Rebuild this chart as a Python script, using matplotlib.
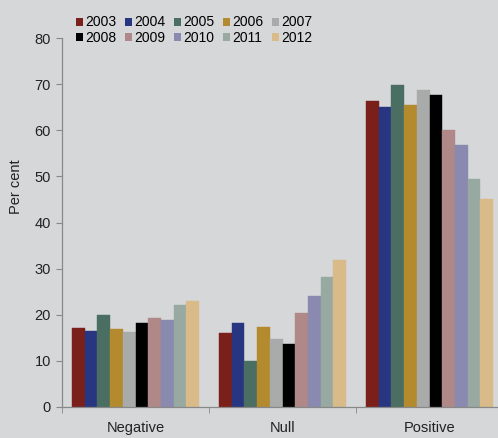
import matplotlib
matplotlib.use("Agg")
import matplotlib.pyplot as plt
import numpy as np
from matplotlib.patches import Patch

plt.rcParams['font.family'] = ['Liberation Sans', 'DejaVu Sans']

categories = ["Negative", "Null", "Positive"]
years = ["2003", "2004", "2005", "2006", "2007", "2008", "2009", "2010", "2011", "2012"]
negative = [17.1, 16.5, 19.9, 16.9, 16.3, 18.3, 19.3, 18.9, 22.1, 22.9]
null = [16.1, 18.2, 10.0, 17.3, 14.7, 13.7, 20.4, 24.0, 28.2, 31.8]
positive = [66.4, 65.1, 69.8, 65.5, 68.8, 67.7, 60.0, 56.9, 49.4, 45.0]
colors = ["#7a1f1a", "#283682", "#4a6e62", "#b38a2e", "#a9abaa",
          "#000000", "#b08888", "#8a8ab0", "#97a9a0", "#d8bb88"]

values = np.array([negative, null, positive])  # shape (category, year)

bg = "#d6d7d9"
fs = 10.5
lfs = 10
fig = plt.figure(figsize=(4.98, 4.38), dpi=100, facecolor=bg)
ax = fig.add_axes([62/498, 1 - 407/438, 441/498, 369/438], facecolor=bg)

n = len(years)
group_w = 0.864
bw = group_w / n
x = np.arange(len(categories))
for i, (yr, c) in enumerate(zip(years, colors)):
    ax.bar(x - group_w/2 + bw*(i + 0.5), values[:, i], width=bw,
           color=c, edgecolor=c, linewidth=0.3, label=yr, zorder=2)

ax.set_xlim(-0.5, 2.5)
ax.set_ylim(0, 80)
ax.set_yticks(np.arange(0, 81, 10))
ax.set_xticks(x)
ax.set_xticklabels(categories, fontsize=fs, color="#222222")
ax.set_xticks([-0.5, 0.5, 1.5, 2.5], minor=True)
ax.tick_params(axis='x', which='major', length=0, pad=10)
ax.tick_params(axis='x', which='minor', length=4, color="#888888", direction='out')
ax.tick_params(axis='y', length=4, color="#888888", direction='out',
               labelsize=fs, labelcolor="#222222", pad=4)

for s in ["top", "right"]:
    ax.spines[s].set_visible(False)
for s in ["left", "bottom"]:
    ax.spines[s].set_color("#888888")
    ax.spines[s].set_linewidth(0.9)

ax.set_ylabel("Per cent", fontsize=fs, color="#222222")
ax.yaxis.set_label_coords(-0.089, 0.596)

# legend laid out row by row (matplotlib fills columns first)
ncol = 5
order = [r * ncol + c for c in range(ncol) for r in range(2)]
handles = [Patch(facecolor=colors[k], edgecolor='none') for k in order]
labels = [years[k] for k in order]
fig.legend(handles, labels, loc='upper left', bbox_to_anchor=(76/498, 1 - 15.5/438),
           ncol=ncol, frameon=False, fontsize=lfs, handlelength=0.5, handleheight=0.5,
           handletextpad=0.15, columnspacing=0.64, labelspacing=0.1, borderpad=0,
           borderaxespad=0)

fig.savefig("out.png", dpi=100, facecolor=bg)
